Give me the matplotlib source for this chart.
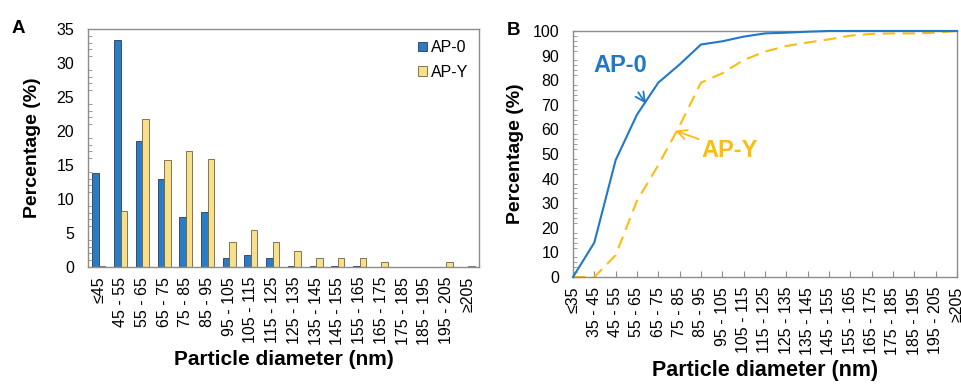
import matplotlib
import matplotlib.pyplot as plt
from matplotlib.ticker import MultipleLocator

matplotlib.use('Agg')
plt.rcParams['font.family'] = ['Liberation Sans', 'DejaVu Sans']

BLUE = "#2a7dc4"
YELLOW = "#f8df8c"
LINE_BLUE = "#1f78c8"
LINE_YELLOW = "#fcbc10"
SPINE = "#8c8c8c"

# panel A: size distribution
bins_a = ["≤45", "45 - 55", "55 - 65", "65 - 75", "75 - 85", "85 - 95",
          "95 - 105", "105 - 115", "115 - 125", "125 - 135", "135 - 145",
          "145 - 155", "155 - 165", "165 - 175", "175 - 185", "185 - 195",
          "195 - 205", "≥205"]
ap0_pct = [13.8, 33.4, 18.6, 13.0, 7.3, 8.1, 1.3, 1.8, 1.3, 0.2, 0.2, 0.2,
           0.2, 0.0, 0.0, 0.0, 0.0, 0.0]
apy_pct = [0.2, 8.3, 21.7, 15.7, 17.0, 15.9, 3.7, 5.5, 3.7, 2.3, 1.3, 1.3,
           1.3, 0.8, 0.0, 0.0, 0.8, 0.2]

# panel B: cumulative distribution
bins_b = ["≤35", "35 - 45"] + bins_a[1:]
ap0_cum = [0, 14, 47.5, 66, 79, 86.4, 94.5, 95.8, 97.7, 99.0, 99.3, 99.7,
           100, 100, 100, 100, 100, 100, 100]
apy_cum = [0, 0, 8.9, 31, 45.5, 61.5, 79, 82.8, 88.2, 91.6, 93.9, 95.3,
           96.6, 98.1, 98.8, 99.0, 99.0, 99.3, 100]

fig = plt.figure(figsize=(9.62, 3.87), dpi=100)
ax_a = fig.add_axes([0.0915, 0.310, 0.4065, 0.615])
ax_b = fig.add_axes([0.5956, 0.284, 0.3992, 0.636])

for ax in (ax_a, ax_b):
    for sp in ax.spines.values():
        sp.set_color(SPINE)
        sp.set_linewidth(1.0)

# --- A ---
xa = list(range(len(bins_a)))
w = 0.3
ax_a.bar([x - w / 2 for x in xa], ap0_pct, width=w, color=BLUE,
         edgecolor="#2b3b55", linewidth=0.6, label="AP-0")
ax_a.bar([x + w / 2 for x in xa], apy_pct, width=w, color=YELLOW,
         edgecolor="#6f6240", linewidth=0.6, label="AP-Y")
ax_a.set_xlim(-0.5, len(bins_a) - 0.5)
ax_a.set_ylim(0, 35)
ax_a.yaxis.set_major_locator(MultipleLocator(5))
ax_a.yaxis.set_minor_locator(MultipleLocator(1))
ax_a.set_xticks(xa)
ax_a.set_xticklabels(bins_a, rotation=90, fontsize=11.5)
ax_a.tick_params(axis='x', length=0, pad=7)
ax_a.tick_params(axis='y', which='major', direction='in', length=0,
                 labelsize=11.5, pad=10)
ax_a.tick_params(axis='y', which='minor', direction='in', length=3,
                 color=SPINE)
ax_a.set_ylabel("Percentage (%)", fontsize=14, fontweight='bold', labelpad=11)
ax_a.set_xlabel("Particle diameter (nm)", fontsize=15, fontweight='bold',
                labelpad=4)
ax_a.legend(loc='upper right', frameon=False, fontsize=11.5,
            handlelength=0.55, handleheight=0.55, handletextpad=0.25,
            labelspacing=0.6, borderaxespad=0.3)
fig.text(0.012, 0.915, "A", fontsize=13.5, fontweight='bold')

# --- B ---
xb = list(range(len(bins_b)))
ax_b.plot(xb, ap0_cum, color=LINE_BLUE, linewidth=1.5, clip_on=False,
          zorder=3)
ax_b.plot(xb, apy_cum, color=LINE_YELLOW, linewidth=1.5,
          dashes=(6, 3.5), clip_on=False, zorder=2)
ax_b.set_xlim(0, len(bins_b) - 1)
ax_b.set_ylim(0, 100)
ax_b.yaxis.set_major_locator(MultipleLocator(10))
ax_b.yaxis.set_minor_locator(MultipleLocator(2))
ax_b.set_xticks(xb)
ax_b.set_xticklabels(bins_b, rotation=90, fontsize=11.5)
ax_b.tick_params(axis='x', direction='in', length=4, color=SPINE, pad=7)
ax_b.tick_params(axis='y', which='major', direction='in', length=0,
                 labelsize=11.5, pad=10)
ax_b.tick_params(axis='y', which='minor', direction='in', length=3,
                 color=SPINE)
ax_b.set_ylabel("Percentage (%)", fontsize=14, fontweight='bold', labelpad=6)
ax_b.set_xlabel("Particle diameter (nm)", fontsize=15.5, fontweight='bold',
                labelpad=4)

ax_b.annotate("AP-0", xy=(3.42, 70.5), xytext=(2.2, 86),
              fontsize=17, fontweight='bold', color=LINE_BLUE,
              ha='center', va='center',
              arrowprops=dict(arrowstyle='->', color=LINE_BLUE, lw=1.3,
                              shrinkA=11, shrinkB=0))
ax_b.annotate("AP-Y", xy=(4.8, 59.5), xytext=(7.35, 51.5),
              fontsize=17, fontweight='bold', color=LINE_YELLOW,
              ha='center', va='center',
              arrowprops=dict(arrowstyle='->', color=LINE_YELLOW, lw=1.3,
                              shrinkA=28, shrinkB=0))
fig.text(0.527, 0.91, "B", fontsize=13.5, fontweight='bold')

fig.savefig("out.png", dpi=100)
